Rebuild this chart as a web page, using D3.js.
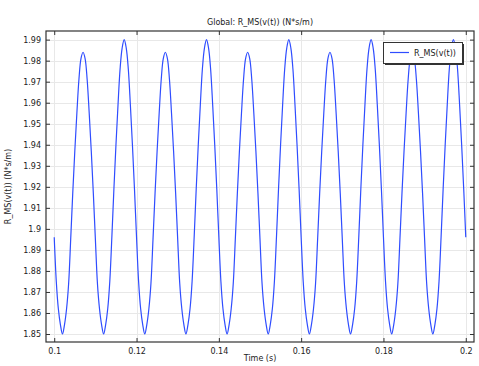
<!DOCTYPE html>
<html>
<head>
<meta charset="utf-8">
<script src="https://cdn.jsdelivr.net/npm/d3@7"></script>
<style>
  html, body { margin: 0; padding: 0; background: #fff; }
  svg { display: block; font-family: "DejaVu Sans", sans-serif; }
</style>
</head>
<body>
<svg id="chart" width="479" height="366"></svg>
<script>
// ---- data ----
const startTime = 0.1;
const sampleStep = 0.0005;
const seriesName = "R_MS(v(t))";
const values = [
  1.896, 1.875, 1.862, 1.8545, 1.850,
  1.8545, 1.862, 1.874, 1.895, 1.917, 1.937, 1.955, 1.971, 1.981, 1.984,
  1.981, 1.971, 1.955, 1.937, 1.917, 1.895, 1.874, 1.862, 1.8545, 1.850,
  1.8545, 1.862, 1.875, 1.896, 1.919, 1.940, 1.959, 1.976, 1.986, 1.990,
  1.986, 1.976, 1.959, 1.940, 1.919, 1.896, 1.875, 1.862, 1.8545, 1.850,
  1.8545, 1.862, 1.874, 1.895, 1.917, 1.937, 1.955, 1.971, 1.981, 1.984,
  1.981, 1.971, 1.955, 1.937, 1.917, 1.895, 1.874, 1.862, 1.8545, 1.850,
  1.8545, 1.862, 1.875, 1.896, 1.919, 1.940, 1.959, 1.976, 1.986, 1.990,
  1.986, 1.976, 1.959, 1.940, 1.919, 1.896, 1.875, 1.862, 1.8545, 1.850,
  1.8545, 1.862, 1.874, 1.895, 1.917, 1.937, 1.955, 1.971, 1.981, 1.984,
  1.981, 1.971, 1.955, 1.937, 1.917, 1.895, 1.874, 1.862, 1.8545, 1.850,
  1.8545, 1.862, 1.875, 1.896, 1.919, 1.940, 1.959, 1.976, 1.986, 1.990,
  1.986, 1.976, 1.959, 1.940, 1.919, 1.896, 1.875, 1.862, 1.8545, 1.850,
  1.8545, 1.862, 1.874, 1.895, 1.917, 1.937, 1.955, 1.971, 1.981, 1.984,
  1.981, 1.971, 1.955, 1.937, 1.917, 1.895, 1.874, 1.862, 1.8545, 1.850,
  1.8545, 1.862, 1.875, 1.896, 1.919, 1.940, 1.959, 1.976, 1.986, 1.990,
  1.986, 1.976, 1.959, 1.940, 1.919, 1.896, 1.875, 1.862, 1.8545, 1.850,
  1.8545, 1.862, 1.874, 1.895, 1.917, 1.937, 1.955, 1.971, 1.981, 1.984,
  1.981, 1.971, 1.955, 1.937, 1.917, 1.895, 1.874, 1.862, 1.8545, 1.850,
  1.8545, 1.862, 1.875, 1.896, 1.919, 1.940, 1.959, 1.976, 1.986, 1.990,
  1.986, 1.976, 1.959, 1.940, 1.919, 1.896
];
const xTicks = [0.1, 0.12, 0.14, 0.16, 0.18, 0.2];
const xTickLabels = ["0.1", "0.12", "0.14", "0.16", "0.18", "0.2"];
const yTicks = [1.85, 1.86, 1.87, 1.88, 1.89, 1.9, 1.91, 1.92, 1.93, 1.94, 1.95, 1.96, 1.97, 1.98, 1.99];
const yTickLabels = ["1.85", "1.86", "1.87", "1.88", "1.89", "1.9", "1.91", "1.92", "1.93", "1.94", "1.95", "1.96", "1.97", "1.98", "1.99"];
const titleText = "Global: R_MS(v(t)) (N*s/m)";
const xLabel = "Time (s)";
const yLabel = "R_MS(v(t)) (N*s/m)";

// ---- layout ----
const plot = { left: 46, top: 31, right: 474, bottom: 342 };
const xDomain = [0.098, 0.202];
const yDomain = [1.8462, 1.9941];

const svg = d3.select("#chart");
const x = d3.scaleLinear().domain(xDomain).range([plot.left, plot.right]);
const y = d3.scaleLinear().domain(yDomain).range([plot.bottom, plot.top]);

const data = values.map((v, i) => ({ t: startTime + i * sampleStep, v }));

// gridlines
const grid = svg.append("g");
grid.selectAll("line.gx").data(xTicks).join("line")
  .attr("x1", d => Math.round(x(d)) + 0.5).attr("x2", d => Math.round(x(d)) + 0.5)
  .attr("y1", plot.top).attr("y2", plot.bottom)
  .attr("stroke", "#e8e8e8").attr("stroke-width", 1);
grid.selectAll("line.gy").data(yTicks).join("line")
  .attr("y1", d => Math.round(y(d)) + 0.5).attr("y2", d => Math.round(y(d)) + 0.5)
  .attr("x1", plot.left).attr("x2", plot.right)
  .attr("stroke", "#e8e8e8").attr("stroke-width", 1);

// series
const clipId = "clipPlot";
svg.append("clipPath").attr("id", clipId).append("rect")
  .attr("x", plot.left).attr("y", plot.top)
  .attr("width", plot.right - plot.left).attr("height", plot.bottom - plot.top);

svg.append("path").datum(data)
  .attr("clip-path", `url(#${clipId})`)
  .attr("fill", "none")
  .attr("stroke", "#2f4dff")
  .attr("stroke-width", 1.2)
  .attr("d", d3.line().x(d => x(d.t)).y(d => y(d.v)).curve(d3.curveCatmullRom));

// axes (ticks inward on all four sides)
const tickLen = 4;
const axisColor = "#333";
const axB = svg.append("g").attr("transform", `translate(0,${plot.bottom})`)
  .call(d3.axisBottom(x).tickValues(xTicks).tickSize(-tickLen).tickPadding(6.5)
    .tickFormat((d, i) => xTickLabels[i]));
const axT = svg.append("g").attr("transform", `translate(0,${plot.top})`)
  .call(d3.axisTop(x).tickValues(xTicks).tickSize(-tickLen).tickFormat(""));
const axL = svg.append("g").attr("transform", `translate(${plot.left},0)`)
  .call(d3.axisLeft(y).tickValues(yTicks).tickSize(-tickLen).tickPadding(5)
    .tickFormat((d, i) => yTickLabels[i]));
const axR = svg.append("g").attr("transform", `translate(${plot.right},0)`)
  .call(d3.axisRight(y).tickValues(yTicks).tickSize(-tickLen).tickFormat(""));

[axB, axT, axL, axR].forEach(a => {
  a.select(".domain").remove();
  a.selectAll(".tick line").attr("stroke", axisColor).attr("stroke-width", 1);
  a.selectAll(".tick text").attr("fill", "#222").style("font-size", "8px")
    .style("font-family", "DejaVu Sans, sans-serif");
});

// frame
svg.append("rect")
  .attr("x", plot.left).attr("y", plot.top)
  .attr("width", plot.right - plot.left).attr("height", plot.bottom - plot.top)
  .attr("fill", "none").attr("stroke", axisColor).attr("stroke-width", 1.2);

// title and axis labels
svg.append("text").attr("x", (plot.left + plot.right) / 2).attr("y", 25)
  .attr("text-anchor", "middle").style("font-size", "8px").attr("fill", "#222")
  .text(titleText);
svg.append("text").attr("x", (plot.left + plot.right) / 2).attr("y", 361)
  .attr("text-anchor", "middle").style("font-size", "8px").attr("fill", "#222")
  .text(xLabel);
svg.append("text")
  .attr("transform", `translate(11,${(plot.top + plot.bottom) / 2}) rotate(-90)`)
  .attr("text-anchor", "middle").style("font-size", "8px").attr("fill", "#222")
  .text(yLabel);

// legend
const lg = { x: 383, y: 42, w: 79, h: 21 };
svg.append("rect").attr("x", lg.x + 2).attr("y", lg.y + 2).attr("width", lg.w).attr("height", lg.h)
  .attr("fill", "#333");
svg.append("rect").attr("x", lg.x + 0.5).attr("y", lg.y + 0.5).attr("width", lg.w).attr("height", lg.h)
  .attr("fill", "#fff").attr("stroke", "#333").attr("stroke-width", 1);
svg.append("line").attr("x1", lg.x + 7).attr("x2", lg.x + 26)
  .attr("y1", lg.y + 10.5).attr("y2", lg.y + 10.5)
  .attr("stroke", "#2f4dff").attr("stroke-width", 1.2);
svg.append("text").attr("x", lg.x + 31).attr("y", lg.y + 13.5)
  .style("font-size", "8px").attr("fill", "#222").text(seriesName);
</script>
</body>
</html>
